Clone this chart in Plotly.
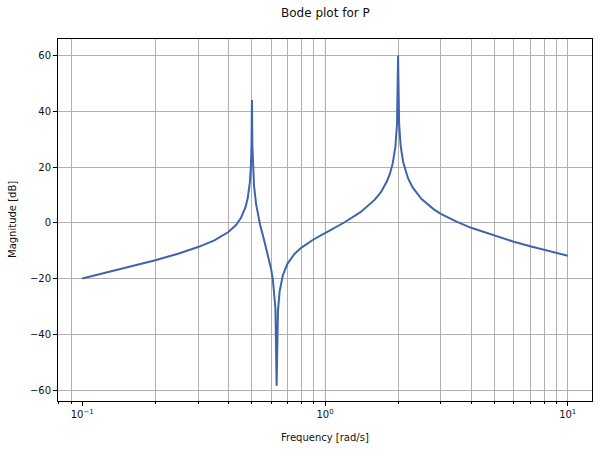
import plotly.graph_objects as go

# Data
freq = [0.1, 0.15, 0.2, 0.25, 0.3, 0.35, 0.4, 0.43, 0.45, 0.47, 0.48, 0.49, 0.495, 0.498,
        0.5, 0.502, 0.505, 0.51, 0.52, 0.54, 0.56, 0.58, 0.6, 0.61, 0.62, 0.625, 0.632,
        0.64, 0.65, 0.67, 0.7, 0.75, 0.8, 0.9, 1.0, 1.2, 1.4, 1.6, 1.7, 1.8, 1.85, 1.9,
        1.95, 1.98, 2.0, 2.02, 2.05, 2.1, 2.2, 2.3, 2.5, 2.8, 3, 3.5, 4, 5, 6, 7, 8, 9, 10]
mag_db = [-20.0, -16.3, -13.4, -11.0, -8.7, -6.3, -3.3, -0.8, 1.7, 5.5, 8.7, 14.3, 20.1, 27.9,
          44.0, 27.7, 19.6, 13.3, 6.8, -0.6, -5.9, -10.9, -16.6, -20.5, -26.2, -30.9, -58.4,
          -31.6, -24.7, -18.9, -14.7, -11.1, -8.9, -5.9, -3.7, 0.1, 3.8, 8.2, 11.0, 14.9, 17.5, 21.2,
          27.3, 35.4, 60.0, 35.5, 27.6, 21.7, 15.9, 12.6, 8.5, 4.9, 3.2, 0.3, -1.8, -4.7, -6.8, -8.4, -9.7, -10.8, -11.8]

x_major = [0.1, 1, 10]
x_major_text = ["10<sup>\u22121</sup>", "10<sup>0</sup>", "10<sup>1</sup>"]
x_minor = [0.08, 0.09, 0.2, 0.3, 0.4, 0.5, 0.6, 0.7, 0.8, 0.9, 1, 2, 3, 4, 5, 6, 7, 8, 9, 10]
y_ticks = [-60, -40, -20, 0, 20, 40, 60]
faint_grid = [0.4, 1.0]

FONT = "DejaVu Sans"
fig = go.Figure()
fig.add_trace(go.Scatter(x=freq, y=mag_db, mode="lines",
                         line=dict(color="#3f64ae", width=2), showlegend=False))

for fx in faint_grid:
    fig.add_shape(type="line", xref="x", yref="paper", x0=fx, x1=fx, y0=0, y1=1,
                  line=dict(color="#f3f3f3", width=1.5), layer="between")

fig.update_layout(
    width=602, height=451,
    margin=dict(l=58, r=10, t=39, b=50),
    paper_bgcolor="white", plot_bgcolor="white",
    font=dict(family=FONT, size=10, color="#111111"),
    annotations=[
        dict(text="Bode plot for P", xref="paper", yref="paper", x=0.5, y=1,
             xanchor="center", yanchor="middle", yshift=26, showarrow=False,
             font=dict(size=12, family=FONT, color="#111111")),
        dict(text="Frequency [rad/s]", xref="paper", yref="paper", x=0.5, y=0,
             xanchor="center", yanchor="middle", yshift=-36, showarrow=False,
             font=dict(size=10, family=FONT, color="#111111")),
        dict(text="Magnitude [dB]", xref="paper", yref="paper", x=0, y=0.5,
             xanchor="center", yanchor="middle", xshift=-46, textangle=-90, showarrow=False,
             font=dict(size=10, family=FONT, color="#111111")),
    ],
)
fig.update_xaxes(
    type="log", range=[-1.1, 1.1],
    tickmode="array", tickvals=x_major, ticktext=x_major_text,
    ticks="outside", ticklen=4, tickwidth=1, tickcolor="black",
    showgrid=False, zeroline=False,
    showline=True, linecolor="black", linewidth=1, mirror=True,
    minor=dict(tickmode="array", tickvals=x_minor, ticks="outside", ticklen=2,
               tickcolor="black", showgrid=True, gridcolor="#b0b0b0", gridwidth=1),
)
fig.update_yaxes(
    range=[-63.9, 65.9],
    tickmode="array", tickvals=y_ticks,
    ticks="outside", ticklen=4, tickwidth=1, tickcolor="black",
    showgrid=True, gridcolor="#b0b0b0", gridwidth=1, zeroline=False,
    showline=True, linecolor="black", linewidth=1, mirror=True,
)

fig.write_html("out.html", config={"displayModeBar": False})

# remove the default page margin so the figure sits at the window origin
with open("out.html", "r", encoding="utf-8") as fh:
    html = fh.read()
html = html.replace("<body>", '<body style="margin:0;padding:0;overflow:hidden">', 1)
with open("out.html", "w", encoding="utf-8") as fh:
    fh.write(html)
